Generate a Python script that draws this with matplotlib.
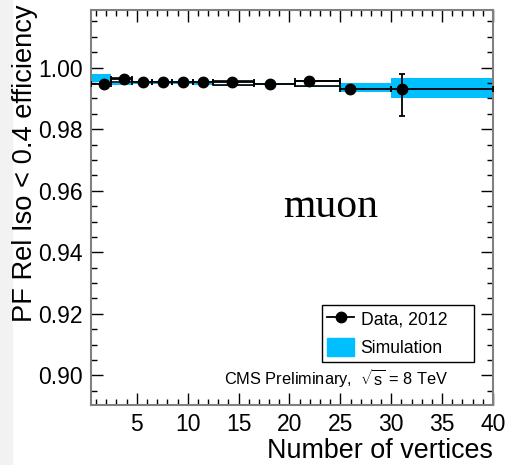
import numpy as np
import matplotlib
matplotlib.use('Agg')
import matplotlib.pyplot as plt
from matplotlib.lines import Line2D
from matplotlib.patches import Patch, Rectangle
from matplotlib.ticker import MultipleLocator

plt.rcParams['font.family'] = ['Liberation Sans', 'DejaVu Sans']
plt.rcParams['mathtext.fontset'] = 'custom'
plt.rcParams['mathtext.rm'] = 'Liberation Sans'
plt.rcParams['mathtext.it'] = 'Liberation Sans'

# bins (number of vertices)
bin_lo = [0.5, 2.5, 4.5, 6.5, 8.5, 10.5, 12.5, 16.5, 20.5, 25.0, 30.0]
bin_hi = [2.5, 4.5, 6.5, 8.5, 10.5, 12.5, 16.5, 20.5, 25.0, 30.0, 40.0]

# data 2012
data_x = [1.80, 3.79, 5.65, 7.58, 9.57, 11.47, 14.31, 18.06, 21.90, 25.90, 31.06]
data_y = [0.9946, 0.9962, 0.9952, 0.9953, 0.9952, 0.9952, 0.9953, 0.9946, 0.9956, 0.9930, 0.9930]
data_err_dn = [0.0003, 0.0003, 0.0003, 0.0003, 0.0003, 0.0003, 0.0003, 0.0003, 0.0003, 0.0004, 0.0087]
data_err_up = [0.0003, 0.0003, 0.0003, 0.0003, 0.0003, 0.0003, 0.0003, 0.0003, 0.0003, 0.0004, 0.0049]
# visible error boxes on some data bins
box_lo = [np.nan, 0.9952, np.nan, np.nan, np.nan, np.nan, 0.9944, np.nan, 0.9941, np.nan, np.nan]
box_hi = [np.nan, 0.9965, np.nan, np.nan, np.nan, np.nan, 0.9957, np.nan, 0.9958, np.nan, np.nan]

# simulation band
sim_lo = [0.9952, 0.9942, 0.9946, 0.9948, 0.9947, 0.9945, 0.9941, 0.9944, 0.9937, 0.9921, 0.9900]
sim_hi = [0.9979, 0.9951, 0.9955, 0.9955, 0.9955, 0.9955, 0.9950, 0.9950, 0.9950, 0.9949, 0.9965]

cyan = '#00bfff'

lo = np.array(bin_lo)
hi = np.array(bin_hi)
x = np.array(data_x)
y = np.array(data_y)

fig = plt.figure(figsize=(5.07, 4.65), dpi=100)
fig.patches.append(Rectangle((0, 0), 12 / 507, 1, transform=fig.transFigure,
                             color='#f2f2f2', zorder=-5))
ax = fig.add_axes([0.1795, 0.129, 0.7929, 0.8495])
ax.set_zorder(1)
ax.patch.set_alpha(0)

ax.bar(lo, np.array(sim_hi) - np.array(sim_lo), bottom=sim_lo, width=hi - lo,
       align='edge', color=cyan, linewidth=0, zorder=1)
ax.bar(lo, np.array(box_hi) - np.array(box_lo), bottom=box_lo, width=hi - lo,
       align='edge', facecolor='white', edgecolor='black', linewidth=1.2, zorder=2)
ax.errorbar(x, y, xerr=[x - lo, hi - x], yerr=[data_err_dn, data_err_up],
            fmt='o', color='black', ms=7.5, elinewidth=1.3, capsize=2.5,
            capthick=1.3, zorder=3)

ax.set_xlim(0.5, 40)
ax.set_ylim(0.8904, 1.0187)

ax.xaxis.set_minor_locator(MultipleLocator(1))
ax.yaxis.set_minor_locator(MultipleLocator(0.005))
ax.set_xticks([5, 10, 15, 20, 25, 30, 35, 40])
ax.set_yticks([0.90, 0.92, 0.94, 0.96, 0.98, 1.00])
ax.set_yticklabels(['0.90', '0.92', '0.94', '0.96', '0.98', '1.00'])

ax.tick_params(which='both', direction='in', top=True, right=True, color='black',
               width=1.0, labelsize=16.5)
ax.tick_params(which='major', length=8.5)
ax.tick_params(which='minor', length=4.3)
ax.tick_params(axis='x', pad=6)
ax.tick_params(axis='y', pad=6)
for s in ax.spines.values():
    s.set_color('#808080')
    s.set_linewidth(1.5)

ax.set_xlabel('Number of vertices', fontsize=19.4, loc='right', labelpad=1)
ax.set_ylabel('PF Rel Iso < 0.4 efficiency', fontsize=19.6)
ax.yaxis.set_label_coords(-0.133, 1.013)
ax.yaxis.label.set_horizontalalignment('right')

ax.text(0.595, 0.476, 'muon', transform=ax.transAxes, fontsize=30,
        family='Liberation Serif', ha='center', va='baseline')
ax.text(0.61, 0.066, r'CMS Preliminary,  $\sqrt{s}$ = 8 TeV', transform=ax.transAxes,
        fontsize=11.8, ha='center', va='center')

handles = [Line2D([], [], color='black', marker='o', ms=7.5, lw=1.3),
           Patch(facecolor=cyan, edgecolor=cyan)]
leg = ax.legend(handles, ['Data, 2012', 'Simulation'], loc='lower left',
                bbox_to_anchor=(0.575, 0.109, 0.378, 0.147), mode='expand',
                fontsize=12.7, fancybox=False, framealpha=1, edgecolor='black',
                handlelength=1.55, handleheight=1.15, handletextpad=0.35,
                borderpad=0.28, borderaxespad=0, labelspacing=0.57)
leg.get_frame().set_linewidth(1.0)

fig.savefig('out.png', dpi=100)
